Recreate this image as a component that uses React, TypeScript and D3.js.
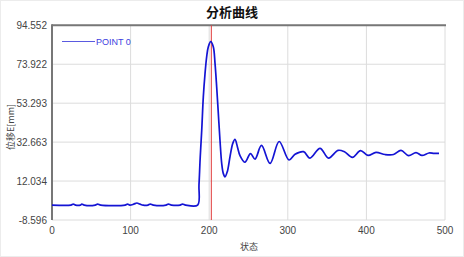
import React from "react";
import * as d3 from "d3";

const title = "分析曲线";
const xAxisTitle = "状态";
const yAxisTitle = "位移E[mm]";
const seriesName = "POINT 0";

const states = [
  0, 24, 27, 30, 36, 38, 41, 55, 58, 62, 93, 96, 99, 104, 108, 112, 116, 122, 125, 129,
  145, 148, 152, 163, 166, 170, 185.3, 187, 188.5, 190.5, 192.5, 194.7, 196.8, 198.9,
  201.9, 205.2, 207.4, 209.5, 211.6, 213.7, 215.9, 217.9, 220.1, 223, 226.5, 230, 232.8,
  236, 239.2, 245.5, 252.5, 258.3, 266.5, 277.4, 289, 301.5, 309.2, 320, 328.2, 341,
  351.8, 363.9, 371.5, 382.3, 392.5, 402, 412.2, 423.7, 434.5, 444, 453.6, 463.1, 470.7,
  479.6, 486, 492.4,
];
const displacement = [
  -0.7, -0.7, -0.2, -0.7, -0.7, -0.2, -0.7, -0.7, -0.2, -0.7, -0.7, -0.2, -0.7, -0.2, 0.4, -0.2, -0.7, -0.7, -0.2, -0.7,
  -0.7, -0.2, -0.7, -0.7, -0.2, -0.7, -0.7, 10, 24, 39, 56.5, 69, 78, 83.2,
  85.9, 83.2, 74.4, 62, 47.9, 33.8, 21.4, 16.1, 14.3, 17, 25, 32, 34.1,
  30, 25.5, 22, 26.6, 23.7, 30.9, 21.4, 33, 23.2, 26.2, 27.6, 24.2, 29.4,
  24.2, 28.3, 27.7, 24.6, 28.2, 25.6, 27.2, 26.1, 26.1, 28.3, 25.5, 27.1, 25.6,
  26.9, 26.7, 26.7,
];
const xTicks = [0, 100, 200, 300, 400, 500];
const yTicks = [-8.596, 12.034, 32.663, 53.293, 73.922, 94.552];
const markerState = 202.7;

const W = 464;
const H = 257;
const L = 52, R = 445, T = 25.3, B = 220;

export default function App() {
  const x = d3.scaleLinear().domain([0, 500]).range([L, R]);
  const y = d3.scaleLinear().domain([-8.596, 94.552]).range([B, T]);
  const pts = states.map((s, i) => [s, displacement[i]] as [number, number]);
  const line = d3
    .line<[number, number]>()
    .x((d) => x(d[0]))
    .y((d) => y(d[1]))
    .curve(d3.curveCatmullRom.alpha(0.5));
  const font = "Arial, 'Liberation Sans', sans-serif";
  return (
    <svg
      width={W}
      height={H}
      style={{ position: "absolute", left: 0, top: 0, background: "#fff" }}
    >
      <rect x={0.5} y={0.5} width={W - 1} height={H - 1} fill="#fff" stroke="#ececec" />
      <text
        x={232}
        y={17}
        textAnchor="middle"
        fontFamily="'Noto Sans CJK SC', sans-serif"
        fontWeight="bold"
        fontSize={13}
        fill="#111"
      >
        {title}
      </text>
      {xTicks.map((t) => (
        <line key={"gx" + t} x1={x(t)} x2={x(t)} y1={T} y2={B} stroke="#dcdcdc" strokeWidth={1} />
      ))}
      {yTicks.map((t) => (
        <line key={"gy" + t} x1={L} x2={R} y1={y(t)} y2={y(t)} stroke="#dcdcdc" strokeWidth={1} />
      ))}
      <line x1={L} x2={R + 1} y1={T} y2={T} stroke="#777" strokeWidth={2} />
      <line x1={L} x2={L} y1={T - 1} y2={B} stroke="#777" strokeWidth={2} />
      {yTicks.map((t) => (
        <text
          key={"ty" + t}
          x={47}
          y={y(t)}
          dy="0.35em"
          textAnchor="end"
          fontFamily={font}
          fontSize={10}
          fill="#444"
        >
          {t.toFixed(3)}
        </text>
      ))}
      {xTicks.map((t) => (
        <text
          key={"tx" + t}
          x={x(t)}
          y={234}
          textAnchor="middle"
          fontFamily={font}
          fontSize={10}
          fill="#444"
        >
          {t}
        </text>
      ))}
      <text
        x={249}
        y={250}
        textAnchor="middle"
        fontFamily="'Noto Sans CJK SC', sans-serif"
        fontSize={9}
        fill="#444"
      >
        {xAxisTitle}
      </text>
      <text
        transform={`translate(14,127) rotate(-90)`}
        textAnchor="middle"
        fontFamily="'Noto Sans CJK SC', sans-serif"
        fontSize={9}
        fill="#444"
      >
        {yAxisTitle}
      </text>
      <line
        x1={x(markerState)}
        x2={x(markerState)}
        y1={T}
        y2={B}
        stroke="#e03a3a"
        strokeWidth={1}
      />
      <path d={line(pts) || ""} fill="none" stroke="#1414d4" strokeWidth={1.7} />
      <line x1={62} x2={95} y1={41.5} y2={41.5} stroke="#5a5ae0" strokeWidth={1.2} />
      <text x={96} y={44.5} fontFamily={font} fontSize={9} fill="#4040e0">
        {seriesName}
      </text>
    </svg>
  );
}
